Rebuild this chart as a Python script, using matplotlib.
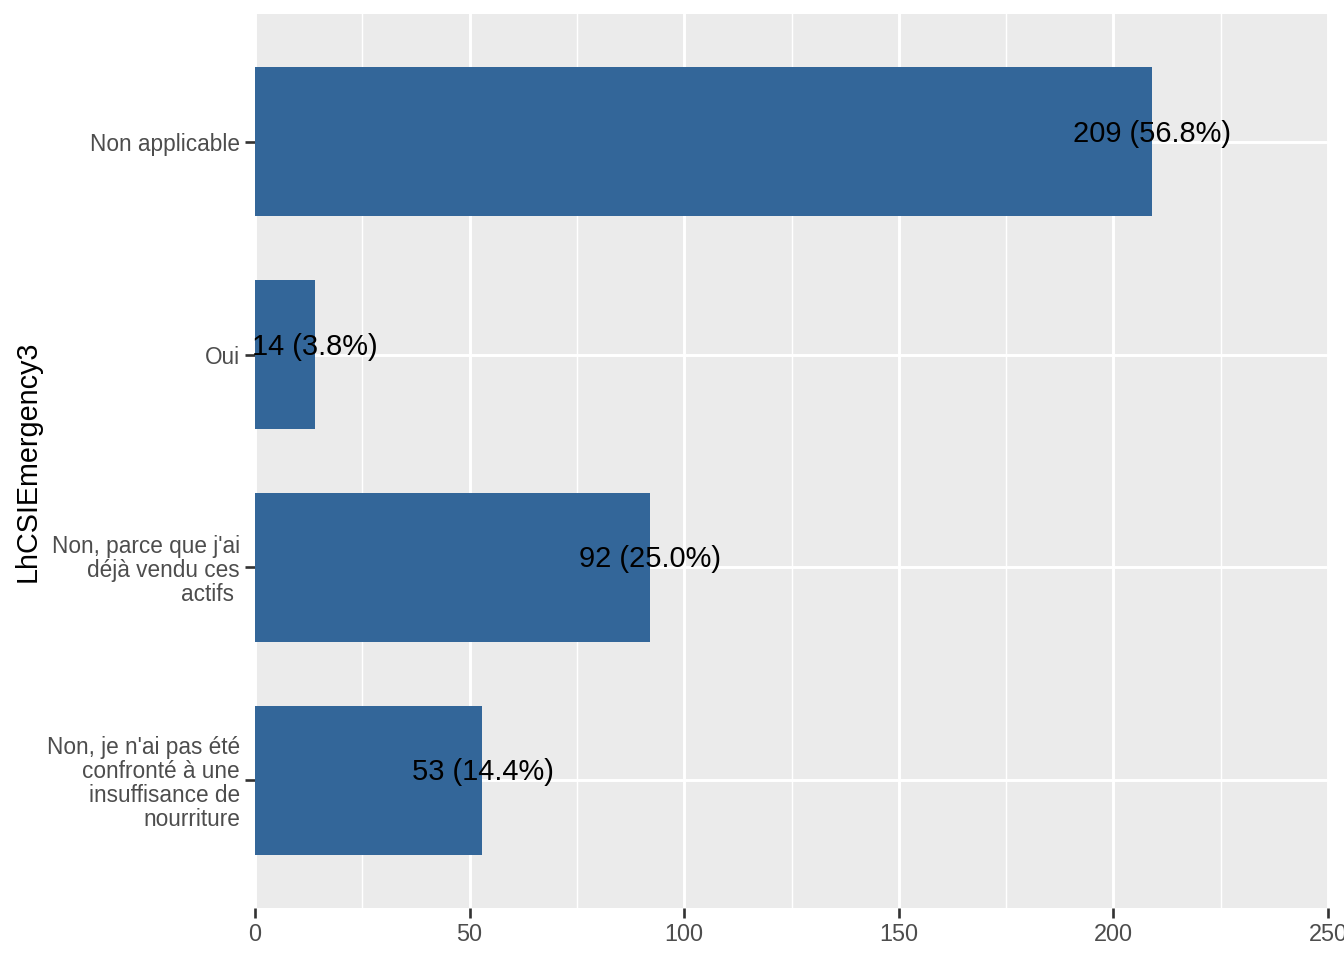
import numpy as np
import matplotlib.pyplot as plt

plt.rcParams['font.family'] = ['Liberation Sans', 'DejaVu Sans']

# données
categories = ["Non, je n'ai pas été\nconfronté à une\ninsuffisance de\nnourriture",
              "Non, parce que j'ai\ndéjà vendu ces\nactifs ",
              "Oui",
              "Non applicable"]
counts = [53, 92, 14, 209]
percents = [14.4, 25.0, 3.8, 56.8]
xticks = [0, 50, 100, 150, 200, 250]

fig = plt.figure(figsize=(7, 5), dpi=192)
ax = fig.add_axes([255 / 1344, 1 - 908 / 960, (1328 - 255) / 1344, (908 - 14) / 960])

ax.set_facecolor('#EBEBEB')
for s in ax.spines.values():
    s.set_visible(False)

ypos = np.arange(len(categories))
ax.barh(ypos, counts, height=0.7, color='#336699', zorder=2)

for y, c, p in zip(ypos, counts, percents):
    ax.annotate(f"{c} ({p:.1f}%)", xy=(c, y), xytext=(0, 3), textcoords='offset points',
                ha='center', va='center', fontsize=10.9, color='black', zorder=3)

ax.set_xlim(0, 250)
ax.set_ylim(-0.6, len(categories) - 0.4)
ax.set_xticks(xticks)
ax.set_xticks([25, 75, 125, 175, 225], minor=True)
ax.set_yticks(ypos)
ax.set_yticklabels(categories, linespacing=1.05)

ax.grid(which='major', color='white', linewidth=1.1, zorder=1)
ax.grid(which='minor', axis='x', color='white', linewidth=0.55, zorder=1)
ax.tick_params(which='major', length=3.6, width=1.0, color='#333333',
               labelsize=8.5, labelcolor='#4D4D4D', pad=2)
ax.tick_params(axis='x', labelsize=8.8)
ax.tick_params(which='minor', length=0)
ax.set_axisbelow(True)

# titre de l'axe y
fig.text(28 / 1344, 1 - 461 / 960, 'LhCSIEmergency3', rotation=90,
         ha='center', va='center', fontsize=10.8, color='black')

fig.savefig('out.png', dpi=192)
